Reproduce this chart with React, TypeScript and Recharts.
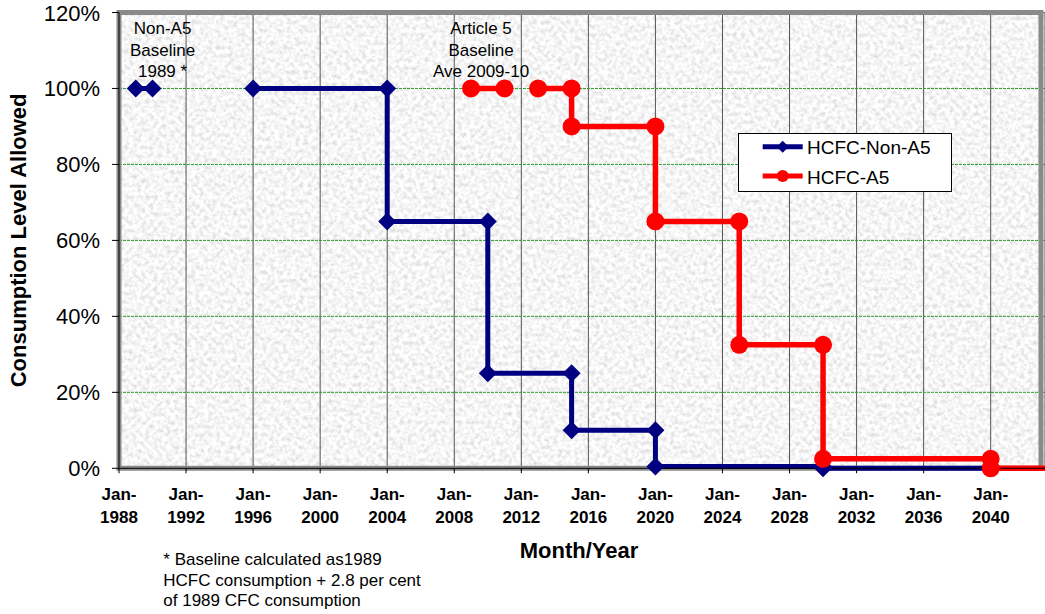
import React from "react";
import { LineChart, Line, XAxis, YAxis, CartesianGrid, Legend, ReferenceArea, ReferenceDot } from "recharts";

const FONT = "Arial, 'Liberation Sans', sans-serif";

const xTickYears = [1988, 1992, 1996, 2000, 2004, 2008, 2012, 2016, 2020, 2024, 2028, 2032, 2036, 2040];
const yTicks = [0, 20, 40, 60, 80, 100, 120];

const seriesNames = ["HCFC-Non-A5", "HCFC-A5"];

// HCFC phase-out, non-Article 5 parties (null breaks the line)
const nonA5Years = [1989, 1990, 1993, 1996, 2004, 2004, 2010, 2010, 2015, 2015, 2020, 2020, 2030, 2030, 2040];
const nonA5Levels = [100, 100, null, 100, 100, 65, 65, 25, 25, 10, 10, 0.5, 0.5, 0, 0];

// HCFC phase-out, Article 5 parties
const a5Years = [2009, 2011, 2012, 2013, 2015, 2015, 2020, 2020, 2025, 2025, 2030, 2030, 2040, 2040, 2043.24];
const a5Levels = [100, 100, null, 100, 100, 90, 90, 65, 65, 32.5, 32.5, 2.5, 2.5, 0, 0];

const nonA5Note = ["Non-A5", "Baseline", "1989 *"];
const a5Note = ["Article 5", "Baseline", "Ave 2009-10"];
const footnote = [
  "* Baseline calculated as1989",
  "HCFC consumption + 2.8 per cent",
  "of 1989 CFC consumption",
];

const nonA5Data = nonA5Years.map((year, i) => ({ year, level: nonA5Levels[i] }));
const a5Data = a5Years.map((year, i) => ({ year, level: a5Levels[i] }));

const NAVY = "#000080";
const RED = "#ff0000";

const DiamondDot = (p: any) => {
  if (p.cx == null || p.cy == null || p.payload?.level == null) return <g key={p.index} />;
  const s = 9;
  return (
    <polygon
      key={p.index}
      points={`${p.cx},${p.cy - s} ${p.cx + s},${p.cy} ${p.cx},${p.cy + s} ${p.cx - s},${p.cy}`}
      fill={NAVY}
    />
  );
};

const CircleDot = (p: any) => {
  // no marker on the run-off point past the frame
  if (p.cx == null || p.cy == null || p.payload?.level == null || p.payload.year > 2042) return <g key={p.index} />;
  return <circle key={p.index} cx={p.cx} cy={p.cy} r={9} fill={RED} />;
};

const XTick = ({ x, y, payload }: any) => (
  <text x={x} y={y + 25} textAnchor="middle" fontFamily={FONT} fontWeight="bold" fontSize={17} fill="#000">
    <tspan x={x}>Jan-</tspan>
    <tspan x={x} dy={23}>{payload.value}</tspan>
  </text>
);

const Note = (lines: string[]) => (props: any) => {
  const vb = props.viewBox || {};
  const cx = (vb.x ?? 0) + (vb.width ?? 0) / 2;
  const cy = (vb.y ?? 0) + (vb.height ?? 0) / 2;
  return (
    <text x={cx} y={cy + 6} textAnchor="middle" fontFamily={FONT} fontSize={17} fill="#000">
      {lines.map((l, i) => (
        <tspan key={i} x={cx} dy={i === 0 ? 0 : 21.5}>
          {l}
        </tspan>
      ))}
    </text>
  );
};

const YLabel = (props: any) => {
  const vb = props.viewBox;
  const cy = vb.y + vb.height / 2;
  return (
    <text
      x={19}
      y={cy}
      transform={`rotate(-90, 19, ${cy})`}
      textAnchor="middle"
      dominantBaseline="central"
      fontFamily={FONT}
      fontWeight="bold"
      fontSize={22}
      fill="#000"
    >
      Consumption Level Allowed
    </text>
  );
};

const XLabel = (props: any) => {
  const vb = props.viewBox;
  return (
    <g>
      <text x={vb.x + vb.width / 2 - 3} y={vb.y + 89.7} textAnchor="middle" fontFamily={FONT} fontWeight="bold" fontSize={22} fill="#000">
        Month/Year
      </text>
      <text x={163.3} y={vb.y + 96.7} fontFamily={FONT} fontSize={17} fill="#000">
        {footnote.map((l, i) => (
          <tspan key={i} x={163.3} dy={i === 0 ? 0 : 20.5}>
            {l}
          </tspan>
        ))}
      </text>
    </g>
  );
};

const LegendBox = ({ payload }: any) => {
  const items = [...(payload || [])].sort((a: any, b: any) => seriesNames.indexOf(a.value) - seriesNames.indexOf(b.value));
  return (
    <svg width={214} height={59} style={{ display: "block" }}>
      <rect x={0.5} y={0.5} width={213} height={58} fill="#fff" stroke="#000" />
      {items.map((e: any, i: number) => {
        const cy = 13.7 + i * 29.3;
        return (
          <g key={e.value}>
            <line x1={24.7} x2={64.7} y1={cy} y2={cy} stroke={e.color} strokeWidth={5} />
            {e.value === seriesNames[0] ? (
              <polygon points={`44.7,${cy - 6} 50.7,${cy} 44.7,${cy + 6} 38.7,${cy}`} fill={e.color} />
            ) : (
              <circle cx={44.7} cy={cy} r={6} fill={e.color} />
            )}
            <text x={69} y={cy + 7.5} fontFamily={FONT} fontSize={19} fill="#000">
              {e.value}
            </text>
          </g>
        );
      })}
    </svg>
  );
};

export default function App() {
  return (
    <div style={{ position: "absolute", left: 0, top: 0, width: 1045, height: 614, background: "#fff" }}>
      <svg width={0} height={0} style={{ position: "absolute" }}>
        <defs>
          <filter id="marbleNoise" x="0" y="0" width="1" height="1">
            <feTurbulence type="fractalNoise" baseFrequency="0.24" numOctaves={3} seed={7} />
            <feColorMatrix type="matrix" values="0.6 0 0 0 0.62  0.6 0 0 0 0.62  0.6 0 0 0 0.62  0 0 0 0 1" />
          </filter>
          <pattern id="marble" patternUnits="userSpaceOnUse" x={0} y={0} width={1045} height={614}>
            <rect width={1045} height={614} fill="#fff" filter="url(#marbleNoise)" />
          </pattern>
        </defs>
      </svg>
      <LineChart width={1045} height={614} margin={{ top: 12.5, right: 0, bottom: 0, left: 0 }}>
        <CartesianGrid horizontal={false} stroke="#555" strokeWidth={1} fill="url(#marble)" fillOpacity={1} />
        <CartesianGrid vertical={false} stroke="#2e9a2e" strokeWidth={1} strokeDasharray="3 1" />
        <ReferenceArea x1={1988} x2={2043} y1={0} y2={120} fill="none" stroke="#8a8a8a" strokeWidth={5} ifOverflow="visible" />
        <XAxis
          type="number"
          dataKey="year"
          domain={[1988, 2043.24]}
          ticks={xTickYears}
          tick={<XTick />}
          height={145.7}
          tickSize={5}
          axisLine={{ stroke: "#000", strokeWidth: 1 }}
          tickLine={{ stroke: "#000" }}
          label={XLabel}
        />
        <YAxis
          type="number"
          domain={[0, 120]}
          ticks={yTicks}
          width={119}
          tickSize={7}
          tickMargin={12}
          tickFormatter={(v) => `${v}%`}
          tick={{ fontSize: 22, fill: "#000", fontFamily: FONT }}
          axisLine={{ stroke: "#000", strokeWidth: 1 }}
          tickLine={{ stroke: "#000" }}
          label={YLabel}
        />
        <ReferenceDot x={1990.6} y={115.9} r={0} fill="none" stroke="none" ifOverflow="visible" label={Note(nonA5Note)} />
        <ReferenceDot x={2009.6} y={115.9} r={0} fill="none" stroke="none" ifOverflow="visible" label={Note(a5Note)} />
        <Legend
          layout="vertical"
          align="center"
          verticalAlign="middle"
          wrapperStyle={{ left: 738, top: 133, width: 214, height: 59 }}
          content={LegendBox}
        />
        <Line
          data={nonA5Data}
          dataKey="level"
          name={seriesNames[0]}
          type="linear"
          stroke={NAVY}
          strokeWidth={5}
          dot={DiamondDot}
          activeDot={false}
          isAnimationActive={false}
        />
        <Line
          data={a5Data}
          dataKey="level"
          name={seriesNames[1]}
          type="linear"
          stroke={RED}
          strokeWidth={5.5}
          dot={CircleDot}
          activeDot={false}
          isAnimationActive={false}
        />
      </LineChart>
    </div>
  );
}
